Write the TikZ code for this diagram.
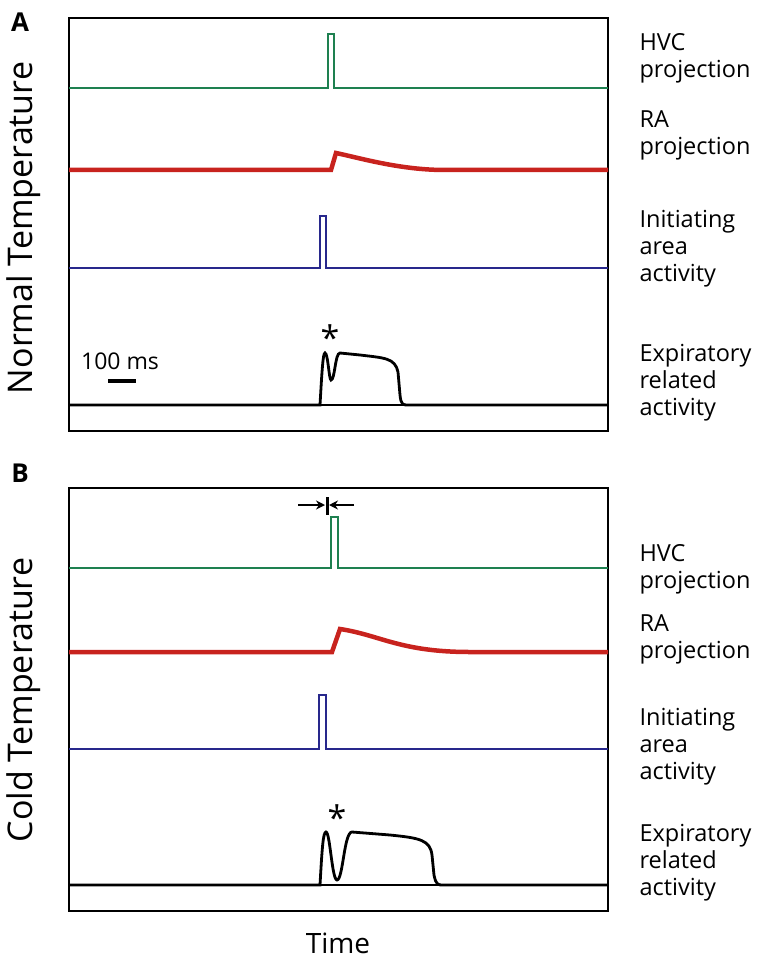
\documentclass[tikz,border=0pt]{standalone}
\usepackage{fontspec}
\setmainfont{Open Sans}
\usetikzlibrary{arrows.meta}
\definecolor{hvcgreen}{RGB}{30,128,80}
\definecolor{rared}{RGB}{200,35,30}
\definecolor{iniblue}{RGB}{40,40,140}
\tikzset{
  panel/.style={line width=2.5pt},
  trace/.style={line width=2.3pt},
  label/.style={anchor=west, align=left, font=\fontsize{23.5}{27}\selectfont},
  side/.style={rotate=90, font=\fontsize{34}{34}\selectfont},
  tag/.style={font=\fontsize{26}{26}\selectfont\bfseries},
  star/.style={font=\fontsize{34}{34}\selectfont}
}
\begin{document}
\begin{tikzpicture}[x=1pt, y=-1pt]
            \useasboundingbox (0,0) rectangle (756,968);
            % panel A
            \node[tag] (tagA) at (20,22) {A};
            \draw[panel] (69,18) rectangle (608,431);
            \draw[panel] (69,405) -- (608,405);
            \node[side] (normal) at (24,228) {Normal Temperature};
            \draw[trace, hvcgreen] (69,88) -- (328,88) -- (328,34) -- (334,34) -- (334,88) -- (608,88);
            \draw[line width=4.5pt, rared] (69,170) -- (331,170) -- (336,153)
                .. controls (360,158) and (400,170) .. (445,170) -- (608,170);
            \draw[trace, iniblue] (69,268) -- (320,268) -- (320,216) -- (326,216) -- (326,268) -- (608,268);
            \draw[line width=2.8pt] (69,405) -- (320,405)
                .. controls (322,370) and (323,353) .. (325,353)
                .. controls (328,353) and (329,380) .. (331,380)
                .. controls (335,380) and (335,353) .. (340,353)
                -- (360,355) .. controls (385,358) and (395,358) .. (398,372)
                -- (400,395) .. controls (401,405) and (403,405) .. (408,405) -- (608,405);
            \node[star] (astA) at (330,338) {*};
            \node[font=\fontsize{23}{23}\selectfont] (msA) at (120,361) {100 ms};
            \draw[line width=4pt] (108,381) -- (136,381);
            \node[label] (hvcA) at (636,58) {HVC\\projection};
            \node[label] (raA) at (636,135) {RA\\projection};
            \node[label] (iniA) at (636,249) {Initiating\\area\\activity};
            \node[label] (expA) at (636,383) {Expiratory\\related\\activity};
            % panel B
            \node[tag] (tagB) at (20,473) {B};
            \draw[panel] (69,488) rectangle (608,911);
            \draw[panel] (69,885) -- (608,885);
            \node[side] (cold) at (24,700) {Cold Temperature};
            \draw[trace, hvcgreen] (69,568) -- (331,568) -- (331,517) -- (338,517) -- (338,568) -- (608,568);
            \draw[-{Stealth[length=9pt,width=9pt]}, line width=2.2pt] (298,505) -- (325,505);
            \draw[-{Stealth[length=9pt,width=9pt]}, line width=2.2pt] (354,505) -- (329,505);
            \draw[line width=3pt] (327,497) -- (327,515);
            \draw[line width=4.5pt, rared] (69,652) -- (332,652) -- (340,629)
                .. controls (380,635) and (400,652) .. (470,652) -- (608,652);
            \draw[trace, iniblue] (69,749) -- (319,749) -- (319,695) -- (326,695) -- (326,749) -- (608,749);
            \draw[line width=2.8pt] (69,885) -- (320,885)
                .. controls (322,850) and (323,832) .. (326,832)
                .. controls (330,832) and (332,880) .. (337,880)
                .. controls (343,880) and (344,832) .. (352,832)
                -- (390,835) .. controls (420,838) and (430,840) .. (432,855)
                -- (434,875) .. controls (436,885) and (438,885) .. (443,885) -- (608,885);
            \node[star] (astB) at (337,818) {*};
            \node[label] (hvcB) at (636,569) {HVC\\projection};
            \node[label] (raB) at (636,639) {RA\\projection};
            \node[label] (iniB) at (636,747) {Initiating\\area\\activity};
            \node[label] (expB) at (636,863) {Expiratory\\related\\activity};
            \node[font=\fontsize{28}{28}\selectfont] (time) at (338,943) {Time};
\end{tikzpicture}
\end{document}
